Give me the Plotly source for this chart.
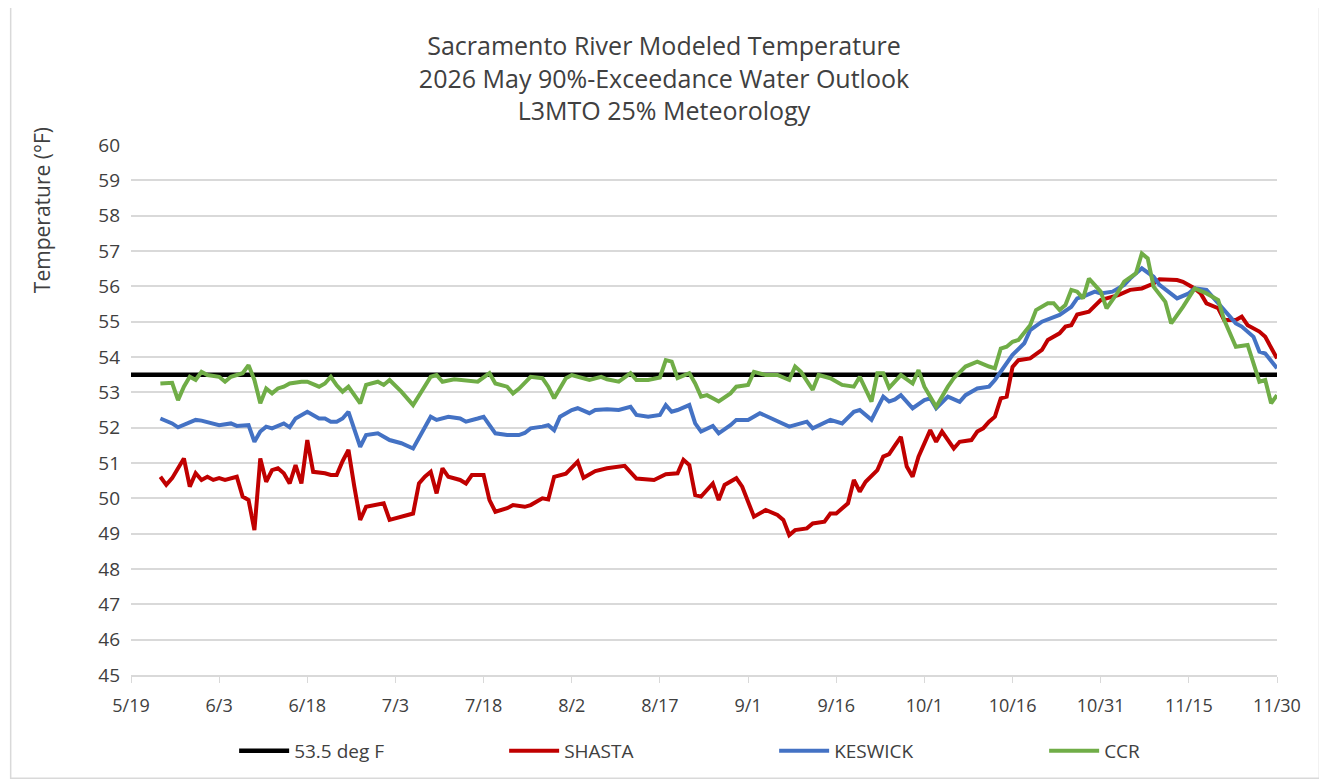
import pandas as pd
import plotly.graph_objects as go

# x values are days counted from 5/19/2026 (first axis tick)
start = pd.Timestamp("2026-05-19")

threshold_day = [0, 195]
threshold_temp = [53.5, 53.5]

shasta_day = [5, 6, 7, 9, 10, 11, 12, 13, 14, 15, 16, 18, 19, 20, 21, 22, 23, 24, 25, 26,
              27, 28, 29, 30, 31, 33, 34, 35, 36, 37, 38, 39, 40, 43, 44, 46, 48, 49, 50, 51,
              52, 53, 54, 56, 57, 58, 60, 61, 62, 64, 65, 67, 68, 70, 71, 72, 74, 76, 77, 79,
              81, 84, 86, 89, 91, 93, 94, 95, 96, 97, 99, 100, 101, 103, 104, 106, 108, 110, 111, 112,
              113, 115, 116, 118, 119, 120, 122, 123, 124, 125, 127, 128, 129, 130, 131, 132, 133, 134, 136, 137,
              138, 140, 141, 143, 144, 145, 146, 147, 148, 149, 150, 151, 153, 155, 156, 158, 159, 160, 161, 163,
              165, 166, 168, 170, 172, 174, 175, 178, 179, 181, 182, 183, 185, 186, 188, 189, 190, 192, 193, 195]
shasta_temp = [50.61, 50.38, 50.57, 51.13, 50.33, 50.71, 50.52, 50.61, 50.52, 50.57, 50.52, 50.61, 50.05, 49.95, 49.10, 51.13, 50.47, 50.80, 50.85, 50.71,
               50.42, 50.94, 50.42, 51.65, 50.75, 50.71, 50.66, 50.66, 51.05, 51.37, 50.33, 49.39, 49.76, 49.86, 49.39, 49.48, 49.57, 50.42, 50.61, 50.75,
               50.14, 50.85, 50.61, 50.52, 50.42, 50.66, 50.66, 49.95, 49.62, 49.72, 49.81, 49.76, 49.81, 50.00, 49.97, 50.61, 50.70, 51.04, 50.58, 50.77,
               50.85, 50.92, 50.56, 50.52, 50.68, 50.71, 51.09, 50.94, 50.09, 50.05, 50.42, 49.95, 50.38, 50.57, 50.33, 49.48, 49.67, 49.53, 49.39, 48.96,
               49.10, 49.15, 49.29, 49.34, 49.57, 49.57, 49.86, 50.52, 50.19, 50.47, 50.80, 51.18, 51.25, 51.50, 51.74, 50.90, 50.61, 51.18, 51.93, 51.60,
               51.89, 51.41, 51.60, 51.65, 51.89, 51.98, 52.17, 52.31, 52.83, 52.88, 53.72, 53.91, 53.96, 54.20, 54.48, 54.67, 54.86, 54.90, 55.20, 55.28,
               55.61, 55.66, 55.75, 55.90, 55.94, 56.08, 56.20, 56.18, 56.13, 55.94, 55.80, 55.52, 55.38, 55.05, 55.05, 55.14, 54.90, 54.72, 54.57, 53.96]

keswick_day = [5, 7, 8, 10, 11, 12, 14, 15, 17, 18, 20, 21, 22, 23, 24, 26, 27, 28, 30, 32,
               33, 34, 35, 36, 37, 39, 40, 42, 44, 46, 48, 50, 51, 52, 54, 56, 57, 59, 60, 61,
               62, 64, 66, 67, 68, 70, 71, 72, 73, 75, 76, 78, 79, 81, 83, 85, 86, 88, 90, 91,
               92, 93, 95, 96, 97, 99, 100, 102, 103, 105, 107, 109, 112, 115, 116, 119, 121, 123, 124, 126,
               128, 129, 130, 131, 133, 135, 136, 137, 139, 141, 142, 144, 146, 147, 149, 150, 152, 153, 155, 157,
               158, 160, 161, 162, 164, 165, 167, 169, 170, 172, 174, 175, 177, 178, 180, 181, 183, 184, 186, 188,
               189, 191, 192, 193, 195]
keswick_temp = [52.26, 52.12, 52.01, 52.17, 52.22, 52.20, 52.12, 52.07, 52.12, 52.05, 52.07, 51.60, 51.89, 52.03, 51.98, 52.12, 52.01, 52.26, 52.45, 52.26,
                52.26, 52.17, 52.17, 52.26, 52.45, 51.46, 51.79, 51.84, 51.65, 51.56, 51.41, 52.03, 52.31, 52.22, 52.31, 52.26, 52.17, 52.26, 52.31, 52.07,
                51.84, 51.79, 51.79, 51.85, 51.98, 52.03, 52.07, 51.93, 52.31, 52.50, 52.55, 52.41, 52.50, 52.52, 52.50, 52.59, 52.36, 52.31, 52.36, 52.64,
                52.45, 52.50, 52.64, 52.12, 51.89, 52.05, 51.84, 52.07, 52.22, 52.22, 52.41, 52.26, 52.03, 52.17, 51.98, 52.22, 52.12, 52.45, 52.50, 52.22,
                52.88, 52.74, 52.80, 52.92, 52.55, 52.78, 52.83, 52.55, 52.88, 52.73, 52.92, 53.11, 53.16, 53.35, 53.82, 54.06, 54.39, 54.76, 55.00, 55.14,
                55.19, 55.42, 55.66, 55.71, 55.85, 55.80, 55.85, 56.04, 56.22, 56.51, 56.27, 56.04, 55.80, 55.66, 55.80, 55.94, 55.90, 55.71, 55.33, 54.95,
                54.86, 54.57, 54.15, 54.10, 53.68]

ccr_day = [5, 7, 8, 9, 10, 11, 12, 13, 15, 16, 17, 19, 20, 21, 22, 23, 24, 25, 26, 27,
           29, 30, 32, 33, 34, 35, 36, 37, 39, 40, 42, 43, 44, 46, 48, 50, 51, 52, 53, 55,
           56, 59, 61, 62, 64, 65, 66, 68, 70, 71, 72, 74, 75, 76, 78, 80, 81, 83, 85, 86,
           88, 90, 91, 92, 93, 95, 96, 97, 98, 99, 100, 102, 103, 105, 106, 108, 110, 112, 113, 114,
           116, 117, 119, 121, 123, 124, 126, 127, 128, 129, 130, 131, 133, 134, 135, 137, 139, 140, 142, 144,
           146, 147, 148, 149, 150, 151, 153, 154, 156, 157, 158, 159, 160, 161, 162, 163, 165, 166, 168, 169,
           171, 172, 173, 174, 176, 177, 179, 181, 183, 185, 186, 188, 190, 192, 193, 194, 195]
ccr_temp = [53.25, 53.27, 52.78, 53.16, 53.44, 53.35, 53.58, 53.49, 53.44, 53.30, 53.44, 53.54, 53.77, 53.35, 52.69, 53.11, 52.97, 53.11, 53.16, 53.25,
            53.30, 53.30, 53.16, 53.25, 53.44, 53.20, 53.02, 53.16, 52.69, 53.21, 53.30, 53.21, 53.35, 53.02, 52.64, 53.16, 53.44, 53.49, 53.30, 53.37,
            53.35, 53.30, 53.54, 53.25, 53.16, 52.97, 53.10, 53.44, 53.40, 53.16, 52.83, 53.40, 53.49, 53.44, 53.35, 53.44, 53.37, 53.30, 53.54, 53.35,
            53.35, 53.42, 53.91, 53.87, 53.40, 53.54, 53.25, 52.88, 52.92, 52.83, 52.74, 52.97, 53.16, 53.21, 53.58, 53.49, 53.49, 53.35, 53.73, 53.58,
            53.07, 53.49, 53.40, 53.21, 53.16, 53.44, 52.74, 53.54, 53.54, 53.13, 53.30, 53.49, 53.25, 53.63, 53.16, 52.59, 53.16, 53.40, 53.73, 53.87,
            53.73, 53.68, 54.24, 54.29, 54.43, 54.48, 54.90, 55.33, 55.52, 55.52, 55.33, 55.47, 55.90, 55.85, 55.66, 56.22, 55.85, 55.38, 55.85, 56.13,
            56.37, 56.93, 56.79, 55.99, 55.56, 54.95, 55.42, 55.94, 55.80, 55.61, 55.05, 54.29, 54.34, 53.30, 53.35, 52.69, 52.92]


def to_dates(days):
    return start + pd.to_timedelta(days, unit="D")


FONT = "Open Sans"
TXT = "#404040"

fig = go.Figure()
fig.add_trace(go.Scatter(x=to_dates(threshold_day), y=threshold_temp, mode="lines",
                         name="53.5 deg F", line=dict(color="#000000", width=4.5)))
fig.add_trace(go.Scatter(x=to_dates(shasta_day), y=shasta_temp, mode="lines",
                         name="SHASTA", line=dict(color="#C00000", width=4)))
fig.add_trace(go.Scatter(x=to_dates(keswick_day), y=keswick_temp, mode="lines",
                         name="KESWICK", line=dict(color="#4472C4", width=4)))
fig.add_trace(go.Scatter(x=to_dates(ccr_day), y=ccr_temp, mode="lines",
                         name="CCR", line=dict(color="#70AD47", width=4)))

# chart area border
fig.add_shape(type="rect", xref="paper", yref="paper",
              x0=-0.105, x1=1.037, y0=-0.195, y1=1.26,
              line=dict(color="#d9d9d9", width=1.5), layer="below")

# y axis title placed like the original (upper left)
fig.add_annotation(text="Temperature (°F)", textangle=-90, xref="paper", yref="paper",
                   x=-0.0777, y=0.877, xanchor="center", yanchor="middle", showarrow=False,
                   font=dict(family=FONT, size=21, color=TXT))

fig.update_layout(
    width=1327, height=780,
    paper_bgcolor="white", plot_bgcolor="white",
    margin=dict(l=123, r=58, t=137, b=113, autoexpand=False),
    font=dict(family=FONT, color=TXT, size=18),
    title=dict(text="Sacramento River Modeled Temperature<br>2026 May 90%-Exceedance Water Outlook<br>L3MTO 25% Meteorology",
               x=656 / 1327, xanchor="center", y=1 - 47 / 780, yanchor="middle", yref="container",
               font=dict(family=FONT, size=25, color=TXT)),
    xaxis=dict(type="date", range=[start, start + pd.Timedelta(days=195)],
               tick0=start, dtick=15 * 86400000, tickformat="%-m/%-d",
               showgrid=False, showline=True, linecolor="#d9d9d9", linewidth=1.5,
               ticks="outside", ticklen=6, tickcolor="#d9d9d9", automargin=False,
               tickfont=dict(size=18, color=TXT), ticklabelstandoff=8),
    yaxis=dict(range=[45, 60], dtick=1, showgrid=True, gridcolor="#d9d9d9", gridwidth=1.5,
               zeroline=False, showline=False, ticks="", ticklabelstandoff=10, automargin=False,
               tickfont=dict(size=19, color=TXT)),
    legend=dict(orientation="h", x=0.09, xanchor="left", y=-0.143, yanchor="middle",
                entrywidth=205, entrywidthmode="pixels", itemwidth=50,
                font=dict(size=19, color=TXT)),
    showlegend=True,
)

fig.write_html("out.html")
